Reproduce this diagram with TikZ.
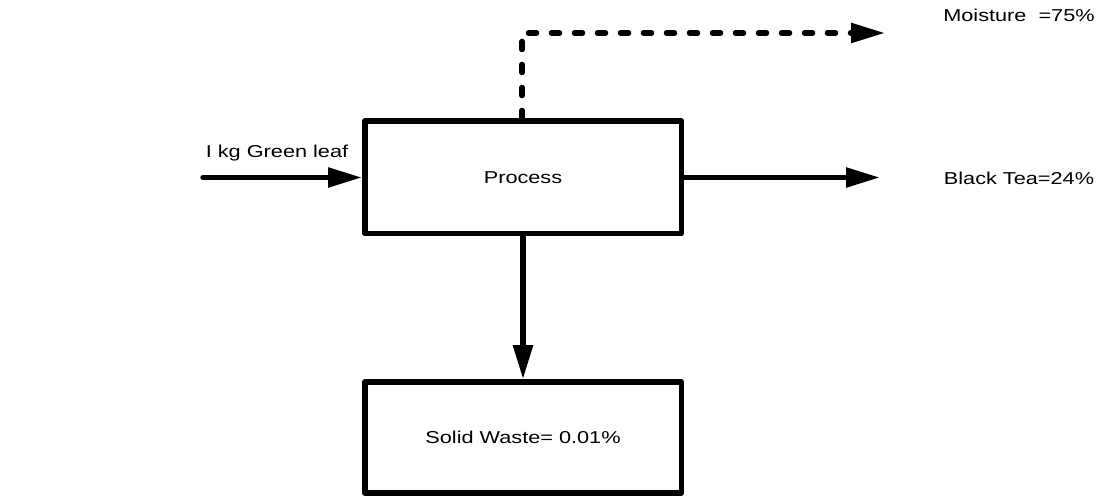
\documentclass[tikz,border=0pt]{standalone}
\usepackage{fontspec}
\setmainfont{Liberation Sans}
\usetikzlibrary{arrows.meta}
\newcommand{\flowtext}[1]{\scalebox{1.26}[1]{#1}}

\begin{document}
\begin{tikzpicture}[x=1cm,y=1cm,
  box/.style={draw,line width=0.11cm,line join=round,minimum width=6.33cm,minimum height=2.25cm,
    font=\fontsize{9.8}{12}\selectfont},
  lbl/.style={font=\fontsize{9.8}{12}\selectfont},
  flow/.style={line width=0.11cm,line cap=round,line join=round,
    -{Triangle[length=0.68cm,width=0.38cm]}},
  vapour/.style={flow,dash pattern=on 0.16cm off 0.3cm}]
\useasboundingbox (0,0) rectangle (22,9.96);
% boxes
\node[box] (process) at (10.46,6.41) {\flowtext{Process}};
\node[box,minimum height=2.22cm] (waste) at (10.46,1.21) {\flowtext{Solid Waste= 0.01\%}};
% stream labels
\node[lbl] (leaf) at (5.54,6.90) {\flowtext{I kg Green leaf}};
\node[lbl] (tea) at (20.38,6.40) {\flowtext{Black Tea=24\%}};
\node[lbl] (moist) at (20.38,9.66) {\flowtext{Moisture~ =75\%}};
% free ends of the streams
\coordinate (leafin) at (4.06,6.41);
\coordinate (teaout) at (17.60,6.41);
\coordinate (bend) at (10.44,9.30);
\coordinate (moistout) at (17.70,9.30);
% streams
\draw[flow] (leafin) -- (process.west);
\draw[flow] (process.east) -- (teaout);
\draw[flow] (process.south) -- (waste.north);
\draw[vapour] (process.north -| bend) -- (bend) -- (moistout);
\end{tikzpicture}
\end{document}
